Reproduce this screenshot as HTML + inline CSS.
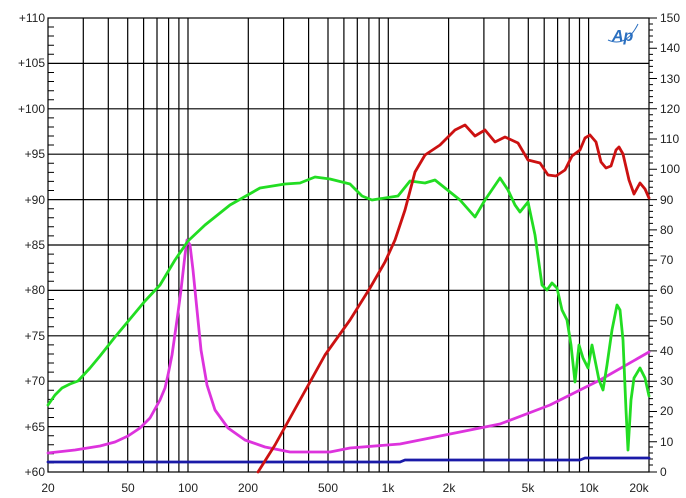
<!DOCTYPE html>
<html><head><style>
body{margin:0;background:#fff;}
svg{display:block;font-family:"Liberation Sans",sans-serif;}
</style></head><body>
<svg width="686" height="498" viewBox="0 0 686 498" xmlns="http://www.w3.org/2000/svg">
<rect width="686" height="498" fill="#fff"/>
<g stroke="#000" stroke-width="1.2" fill="none">
<rect x="48" y="18" width="601" height="454"/>
<path d="M48 63.4H649M48 108.8H649M48 154.2H649M48 199.6H649M48 245H649M48 290.4H649M48 335.8H649M48 381.2H649M48 426.6H649"/>
<path d="M83.3 18V472M108.3 18V472M127.7 18V472M143.6 18V472M157 18V472M168.6 18V472M178.9 18V472M188 18V472M248.3 18V472M283.6 18V472M308.6 18V472M328 18V472M343.9 18V472M357.3 18V472M368.9 18V472M379.2 18V472M388.3 18V472M448.6 18V472M483.9 18V472M508.9 18V472M528.3 18V472M544.2 18V472M557.6 18V472M569.2 18V472M579.5 18V472M588.6 18V472"/>
</g>
<g font-size="12" fill="#222" text-anchor="end">
<text x="45" y="22">+110</text><text x="45" y="67">+105</text><text x="45" y="113">+100</text><text x="45" y="158">+95</text><text x="45" y="204">+90</text><text x="45" y="249">+85</text><text x="45" y="294">+80</text><text x="45" y="340">+75</text><text x="45" y="385">+70</text><text x="45" y="431">+65</text><text x="45" y="476">+60</text>
</g>
<g font-size="12" fill="#222" text-anchor="start">
<text x="660" y="22">150</text><text x="660" y="52">140</text><text x="660" y="83">130</text><text x="660" y="113">120</text><text x="660" y="143">110</text><text x="660" y="173">100</text><text x="660" y="204">90</text><text x="660" y="234">80</text><text x="660" y="264">70</text><text x="660" y="294">60</text><text x="660" y="325">50</text><text x="660" y="355">40</text><text x="660" y="385">30</text><text x="660" y="415">20</text><text x="660" y="446">10</text><text x="660" y="476">0</text>
</g>
<g font-size="12" fill="#222" text-anchor="middle">
<text x="48" y="492">20</text><text x="128" y="492">50</text><text x="188" y="492">100</text><text x="248" y="492">200</text><text x="328" y="492">500</text><text x="388" y="492">1k</text><text x="449" y="492">2k</text><text x="528" y="492">5k</text><text x="589" y="492">10k</text><text x="639" y="492">20k</text>
</g>
<g stroke="#000" stroke-width="1">
<path d="M48 27h6M48 36h6M48 45.3h6M48 54.3h6M48 72.5h6M48 81.5h6M48 90.7h6M48 99.7h6M48 117.9h6M48 127h6M48 136h6M48 145h6M48 163.3h6M48 172.4h6M48 181.4h6M48 190.5h6M48 208.7h6M48 217.8h6M48 226.8h6M48 235.9h6M48 254.1h6M48 263.2h6M48 272.2h6M48 281.3h6M48 299.5h6M48 308.6h6M48 317.6h6M48 326.7h6M48 344.9h6M48 354h6M48 363h6M48 372.1h6M48 390.3h6M48 399.4h6M48 408.4h6M48 417.5h6M48 435.7h6M48 444.8h6M48 453.8h6M48 462.9h6"/>
<path d="M649 24h4M649 30h4M649 36h4M649 42h4M649 54.4h4M649 60.4h4M649 66.4h4M649 72.4h4M649 84.6h4M649 90.6h4M649 96.6h4M649 102.6h4M649 114.8h4M649 120.8h4M649 126.8h4M649 132.8h4M649 145h4M649 151h4M649 157h4M649 163h4M649 175.2h4M649 181.2h4M649 187.2h4M649 193.2h4M649 205.4h4M649 211.4h4M649 217.4h4M649 223.4h4M649 235.6h4M649 241.6h4M649 247.6h4M649 253.6h4M649 265.8h4M649 271.8h4M649 277.8h4M649 283.8h4M649 296h4M649 302h4M649 308h4M649 314h4M649 326.2h4M649 332.2h4M649 338.2h4M649 344.2h4M649 356.4h4M649 362.4h4M649 368.4h4M649 374.4h4M649 386.6h4M649 392.6h4M649 398.6h4M649 404.6h4M649 416.8h4M649 422.8h4M649 428.8h4M649 434.8h4M649 447h4M649 453h4M649 459h4M649 465h4"/>
<path d="M649 18h8M649 48.3h8M649 78.5h8M649 108.8h8M649 139h8M649 169.3h8M649 199.6h8M649 229.9h8M649 260.1h8M649 290.4h8M649 320.7h8M649 350.9h8M649 381.2h8M649 411.5h8M649 441.7h8M649 472h8"/>
</g>
<g fill="none" stroke-width="2.8" stroke-linejoin="round" stroke-linecap="round">
<polyline stroke="#1a1aa8" points="48,462 400,462 405,460 580,460 585,458 649,458"/>
<polyline stroke="#dd33dd" points="48,453 75,450 100,446 115,442 128,436 140,428 150,418 160,400 165,388 168,375 172,355 177,320 181,290 185,255 187,240 190,245 193,270 197,310 201,350 207,385 215,410 228,428 245,440 265,447 290,452 330,452 350,448 400,444 450,434 500,424 550,405 600,380 649,352"/>
<polyline stroke="#22dd22" points="48,405 55,395 62,388 70,384 78,381 90,368 100,356 115,337 130,319 145,301 160,285 175,260 188,241 205,225 230,205 260,188 285,184 300,183 315,177 330,179 350,184 362,196 372,200 385,198 398,196 410,181 425,183 435,180 445,188 460,200 475,217 485,200 500,178 508,190 515,205 520,212 528,202 535,235 542,285 547,290 552,283 557,288 562,310 567,320 571,345 575,382 579,345 583,358 588,368 592,345 596,365 599,380 603,390 607,365 612,330 617,305 620,310 623,340 626,410 628,450 631,400 634,378 640,368 645,378 649,396"/>
<polyline stroke="#cc1111" points="258,472 275,445 300,400 325,355 350,320 370,288 385,262 395,240 405,210 415,172 425,155 440,145 455,130 465,125 475,136 485,130 495,142 505,137 518,143 528,160 540,163 548,175 556,176 565,170 572,156 580,150 585,138 590,135 596,142 601,162 606,168 611,166 616,150 619,147 623,154 629,180 634,194 640,183 645,189 649,198"/>
</g>
<text x="612" y="41" font-size="16" font-style="italic" fill="#2a6fc0" font-weight="bold">Ap</text>
<path d="M608 40 q18 8 30 -16" stroke="#2a6fc0" stroke-width="1" fill="none"/>
</svg>
</body></html>
